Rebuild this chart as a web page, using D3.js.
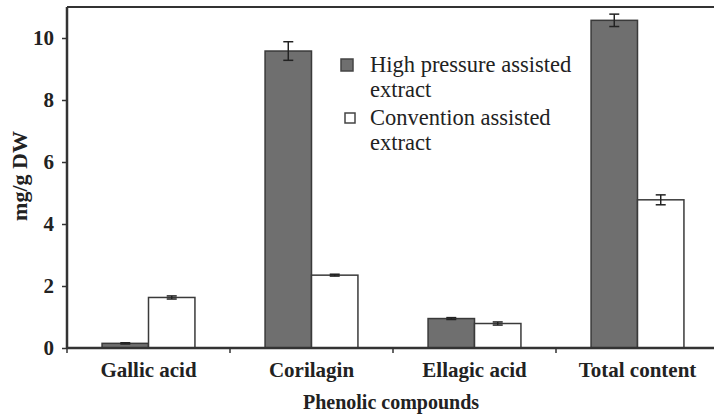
<!DOCTYPE html>
<html><head><meta charset="utf-8">
<script src="https://cdn.jsdelivr.net/npm/d3@7"></script>
<style>body{margin:0;background:#fff}svg{display:block}</style>
</head><body>
<svg id="c" width="714" height="417"></svg>
<script>
const categories = ["Gallic acid", "Corilagin", "Ellagic acid", "Total content"];
const seriesNames = ["High pressure assisted extract", "Convention assisted extract"];
const highPressure = [0.15, 9.58, 0.95, 10.57];
const highPressureErr = [0.02, 0.30, 0.03, 0.2];
const convention = [1.63, 2.35, 0.79, 4.78];
const conventionErr = [0.05, 0.03, 0.05, 0.16];
const yTicks = [0, 2, 4, 6, 8, 10];

const svg = d3.select("#c");
const L = 67, R = 719, T = 7, B = 348;
const x = d3.scaleBand().domain(categories).range([L, R]).paddingInner(0).paddingOuter(0);
const x1 = d3.scaleBand().domain([0, 1]).range([0, x.bandwidth()]).paddingOuter(0.755).paddingInner(0);
const y = d3.scaleLinear().domain([0, 11]).range([B, T]);
const fills = ["#6f6f6f", "#ffffff"];
const serif = "Liberation Serif, Times New Roman, serif";
const ink = "#222";

const series = [
  {vals: highPressure, err: highPressureErr},
  {vals: convention, err: conventionErr}
];

svg.append("line").attr("x1", L).attr("x2", 714).attr("y1", T).attr("y2", T)
  .attr("stroke", "#333").attr("stroke-width", 2);

series.forEach((s, si) => {
  const g = svg.append("g");
  g.selectAll("rect").data(categories).join("rect")
    .attr("x", d => x(d) + x1(si))
    .attr("width", x1.bandwidth())
    .attr("y", (d, i) => y(s.vals[i]))
    .attr("height", (d, i) => B - y(s.vals[i]))
    .attr("fill", fills[si]).attr("stroke", "#3a3a3a").attr("stroke-width", 1.5);
  categories.forEach((c, i) => {
    const cx = x(c) + x1(si) + x1.bandwidth() / 2;
    const y0 = y(s.vals[i] - s.err[i]), y1v = y(s.vals[i] + s.err[i]);
    g.append("line").attr("x1", cx).attr("x2", cx).attr("y1", y0).attr("y2", y1v)
      .attr("stroke", "#222").attr("stroke-width", 1.5);
    [y0, y1v].forEach(yy => g.append("line").attr("x1", cx - 5).attr("x2", cx + 5)
      .attr("y1", yy).attr("y2", yy).attr("stroke", "#222").attr("stroke-width", 1.5));
  });
});

const ya = svg.append("g").attr("transform", `translate(${L},0)`)
  .call(d3.axisLeft(y).tickValues(yTicks).tickSize(5).tickPadding(8).tickFormat(d3.format("d")));
ya.select(".domain").attr("stroke", "#333").attr("stroke-width", 2.5).attr("d", `M0,${B}V${T}`);
ya.selectAll(".tick line").attr("stroke", "#333").attr("stroke-width", 1.5);
ya.selectAll("text").style("font-family", serif).attr("font-weight", "bold")
  .attr("font-size", 21).attr("fill", ink);

const xa = svg.append("g").attr("transform", `translate(0,${B})`)
  .call(d3.axisBottom(x).tickSize(0).tickPadding(14));
xa.select(".domain").attr("stroke", "#333").attr("stroke-width", 2.5).attr("d", `M${L},0H714`);
xa.selectAll("text").style("font-family", serif).attr("font-weight", "bold")
  .attr("font-size", 21).attr("fill", ink);
xa.selectAll(".bt").data(categories).join("line").attr("class", "bt")
  .attr("x1", d => x(d)).attr("x2", d => x(d)).attr("y1", 0).attr("y2", 5)
  .attr("stroke", "#333").attr("stroke-width", 1.5);

svg.append("text").attr("x", 391).attr("y", 409).attr("text-anchor", "middle")
  .style("font-family", serif).attr("font-weight", "bold").attr("font-size", 20).attr("fill", ink)
  .text("Phenolic compounds");
svg.append("text").attr("transform", "translate(27,176) rotate(-90)").attr("text-anchor", "middle")
  .style("font-family", serif).attr("font-weight", "bold").attr("font-size", 22).attr("fill", ink)
  .text("mg/g DW");

const legend = svg.append("g");
const legLines = [["High pressure assisted", "extract"], ["Convention assisted", "extract"]];
legLines.forEach((lines, i) => {
  const yb = 72 + i * 53;
  const sz = i === 0 ? 12 : 10;
  const cxl = i === 0 ? 347 : 350;
  legend.append("rect").attr("x", cxl - sz / 2).attr("y", yb - 7 - sz / 2).attr("width", sz).attr("height", sz)
    .attr("fill", fills[i]).attr("stroke", "#444").attr("stroke-width", 1.5);
  lines.forEach((t, j) => legend.append("text").attr("x", 370).attr("y", yb + j * 25)
    .style("font-family", serif).attr("font-size", 22.5).attr("fill", ink).text(t));
});
</script>
</body></html>
